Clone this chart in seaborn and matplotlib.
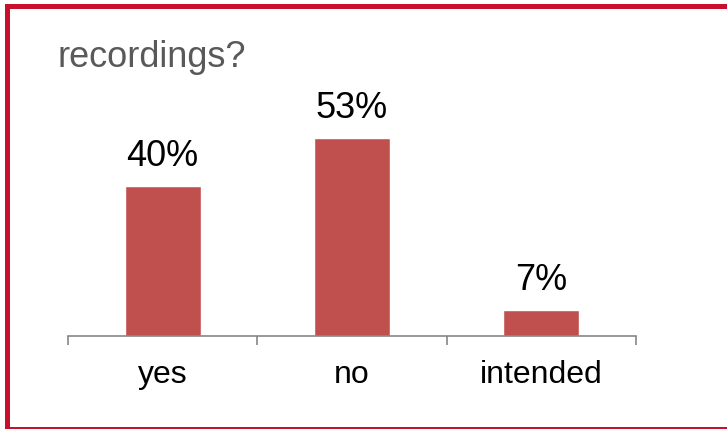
import pandas as pd
import seaborn as sns
import matplotlib.pyplot as plt
from matplotlib.patches import Rectangle

# data
answers = ["yes", "no", "intended"]
shares = [40, 53, 7]
title = "recordings?"

sns.set_theme(style="white")
plt.rcParams["font.family"] = ["Liberation Sans", "DejaVu Sans"]

df = pd.DataFrame({"answer": answers, "pct": shares})

fig = plt.figure(figsize=(7.27, 4.29), dpi=100)
ax = fig.add_axes([68 / 727, 93 / 429, 568 / 727, 224.4 / 429])

sns.barplot(data=df, x="answer", y="pct", color="#C0504D", saturation=1,
            width=0.4, ax=ax)

ax.set_xlim(-0.5, 2.5)
ax.set_ylim(0, 60)
ax.set_xlabel("")
ax.set_ylabel("")
ax.set_yticks([])
for s in ["left", "top", "right"]:
    ax.spines[s].set_visible(False)
ax.spines["bottom"].set_color("#868686")
ax.spines["bottom"].set_linewidth(1.2)

# labels in the middle, tick marks on the category borders
ax.set_xticks(range(len(answers)))
ax.set_xticklabels(answers, fontsize=23, color="black")
ax.tick_params(axis="x", which="major", length=0, pad=17)
ax.set_xticks([-0.5, 0.5, 1.5, 2.5], minor=True)
ax.tick_params(axis="x", which="minor", length=6.5, width=1.2,
               color="#868686", direction="out", bottom=True)

# value labels
for i, v in enumerate(shares):
    ax.annotate(f"{v}%", (i, v), xytext=(0, 14.5), textcoords="offset points",
                ha="center", va="baseline", fontsize=26, color="black")

fig.text(58 / 727, 1 - 67 / 429, title, ha="left", va="baseline",
         fontsize=26, color="#595959")

# red frame (top, left, bottom)
red = "#C8102E"
fig.add_artist(Rectangle((5 / 727, (429 - 9) / 429), 1, 5 / 429,
                         transform=fig.transFigure, color=red, lw=0))
fig.add_artist(Rectangle((5 / 727, 0), 5 / 727, (429 - 4) / 429,
                         transform=fig.transFigure, color=red, lw=0))
fig.add_artist(Rectangle((5 / 727, 0.5 / 429), 1, 2 / 429,
                         transform=fig.transFigure, color=red, lw=0))

fig.savefig("out.png", dpi=100)
